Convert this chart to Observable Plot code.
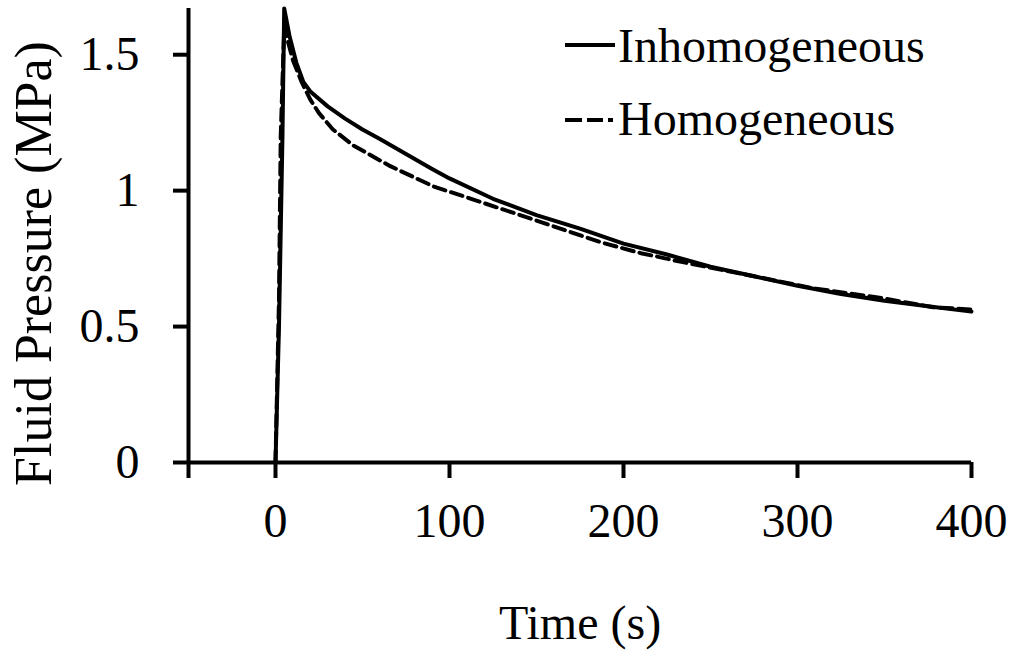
<!DOCTYPE html>
<html>
<head>
<meta charset="utf-8">
<script src="https://cdn.jsdelivr.net/npm/d3@7"></script>
<script src="https://cdn.jsdelivr.net/npm/@observablehq/plot@0.6"></script>
<style>
  html, body { margin: 0; padding: 0; background: white; }
  #wrap { position: relative; width: 1014px; height: 655px; }
  #legend { position: absolute; left: 0; top: 0; pointer-events: none; }
</style>
</head>
<body>
<div id="wrap"></div>
<script>
// Inhomogeneous (solid)
const inhomTime = [0, 2, 4, 5, 8, 12, 16, 20, 30, 40, 50, 60, 75, 90, 100, 125, 150, 175, 200, 225, 250, 275, 300, 325, 350, 375, 400];
const inhomPressure = [0, 0.5, 1.2, 1.67, 1.57, 1.47, 1.40, 1.365, 1.31, 1.265, 1.225, 1.19, 1.135, 1.08, 1.045, 0.97, 0.91, 0.86, 0.805, 0.765, 0.72, 0.685, 0.65, 0.62, 0.595, 0.575, 0.555];
// Homogeneous (dashed)
const homTime = [0, 2, 3, 5, 10, 15, 20, 25, 33, 45, 66, 91, 110, 150, 187, 210, 234, 275, 309, 349, 378, 400];
const homPressure = [0, 0.6, 1.2, 1.6, 1.48, 1.40, 1.335, 1.285, 1.225, 1.165, 1.09, 1.015, 0.975, 0.89, 0.81, 0.77, 0.737, 0.685, 0.641, 0.604, 0.571, 0.563];

const xTicks = [-50, 0, 100, 200, 300, 400];
const yTicks = [0, 0.5, 1, 1.5];
const seriesNames = ["Inhomogeneous", "Homogeneous"];
const xLabel = "Time (s)";
const yLabel = "Fluid Pressure (MPa)";

const inhom = inhomTime.map((t, i) => ({t, p: inhomPressure[i]}));
const hom = homTime.map((t, i) => ({t, p: homPressure[i]}));

const font = "'Liberation Serif', 'Times New Roman', serif";

const chart = Plot.plot({
  width: 1014,
  height: 655,
  marginLeft: 188,
  marginRight: 43,
  marginTop: 8,
  marginBottom: 193,
  style: {fontFamily: font, fontSize: "48px", color: "black", background: "white"},
  x: {domain: [-50, 400]},
  y: {domain: [0, 1.67]},
  marks: [
    Plot.axisX({ticks: xTicks, tickFormat: d => d < 0 ? "" : String(d), tickSize: 16, tickPadding: 24, strokeWidth: 4, fontSize: 48, label: xLabel, labelAnchor: "center", labelOffset: 176, labelArrow: "none"}),
    Plot.axisY({ticks: yTicks, tickFormat: d => String(d), tickSize: 15, tickPadding: 34, strokeWidth: 4, fontSize: 48, label: null}),
    Plot.text([yLabel], {frameAnchor: "left", textAnchor: "middle", rotate: -90, dx: -154, dy: 28, text: d => d, fontSize: 52}),
    Plot.ruleY([0], {strokeWidth: 4}),
    Plot.ruleX([-50], {strokeWidth: 4}),
    Plot.line(hom, {x: "t", y: "p", stroke: "black", strokeWidth: 4, strokeDasharray: "12,6"}),
    Plot.line(inhom, {x: "t", y: "p", stroke: "black", strokeWidth: 4})
  ]
});

const wrap = document.getElementById("wrap");
wrap.appendChild(chart);

// Legend overlay
const ns = "http://www.w3.org/2000/svg";
const lg = document.createElementNS(ns, "svg");
lg.setAttribute("id", "legend");
lg.setAttribute("width", 1014);
lg.setAttribute("height", 160);
const items = [
  {name: seriesNames[0], dash: null, ly: 45, ty: 62},
  {name: seriesNames[1], dash: "17,5,16,5,5,100", ly: 120, ty: 135}
];
items.forEach(it => {
  const l = document.createElementNS(ns, "line");
  l.setAttribute("x1", 565); l.setAttribute("x2", 615);
  l.setAttribute("y1", it.ly); l.setAttribute("y2", it.ly);
  l.setAttribute("stroke", "black"); l.setAttribute("stroke-width", 4);
  if (it.dash) l.setAttribute("stroke-dasharray", it.dash);
  lg.appendChild(l);
  const t = document.createElementNS(ns, "text");
  t.setAttribute("x", 618); t.setAttribute("y", it.ty);
  t.setAttribute("font-family", font); t.setAttribute("font-size", 48);
  t.setAttribute("fill", "black");
  t.textContent = it.name;
  lg.appendChild(t);
});
wrap.appendChild(lg);
</script>
</body>
</html>
